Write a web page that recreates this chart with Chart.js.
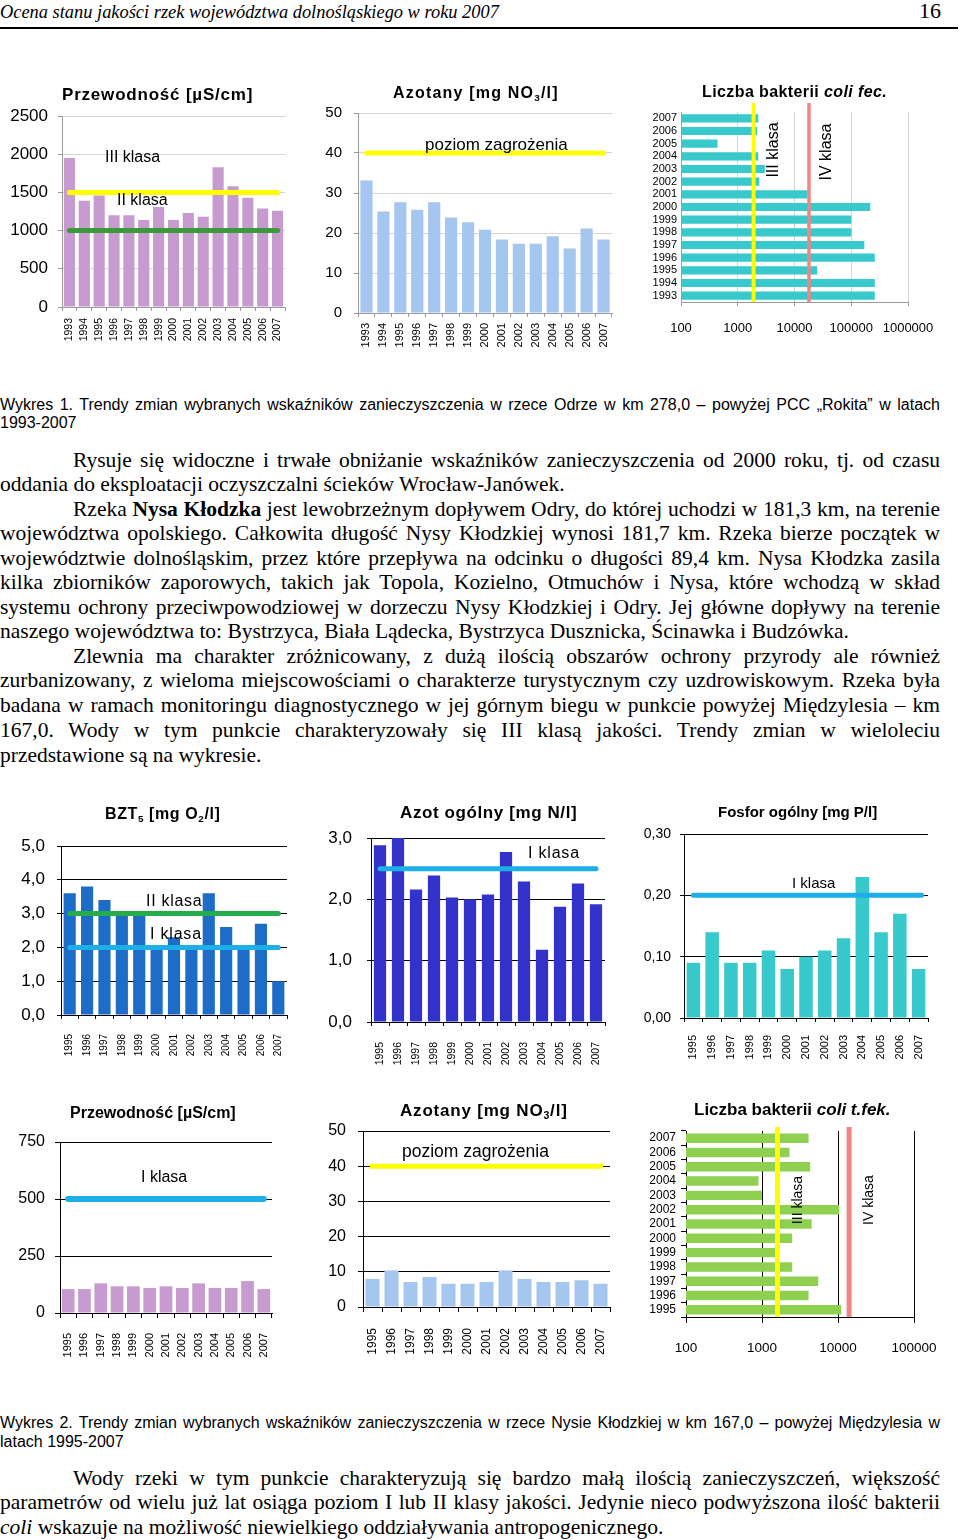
<!DOCTYPE html>
<html lang="pl"><head><meta charset="utf-8"><title>Ocena stanu jakości rzek</title>
<script src="https://cdn.jsdelivr.net/npm/chart.js@4/dist/chart.umd.min.js"></script>
<style>
html,body{margin:0;padding:0;background:#fff;}
body{position:relative;width:960px;height:1540px;overflow:hidden;font-family:"Liberation Sans",Arial,sans-serif;color:#000;}
.a{position:absolute;white-space:nowrap;}
.cb{position:absolute;}
.ttl{position:absolute;white-space:nowrap;font-weight:bold;line-height:20px;height:20px;}
.ttl sub{font-size:0.62em;vertical-align:-0.3em;line-height:0;}
.lbl{position:absolute;white-space:nowrap;line-height:20px;}
.rot{position:absolute;white-space:nowrap;transform:translate(-50%,-50%) rotate(-90deg);line-height:18px;}
.s{position:absolute;font-family:"Liberation Serif","Times New Roman",serif;font-size:21.5px;line-height:24px;height:24px;white-space:nowrap;}
.j{white-space:normal;text-align:justify;text-align-last:justify;}
.cap{position:absolute;font-size:16px;line-height:18px;height:18px;white-space:nowrap;}
</style></head><body>

<div class="a" style="left:0;top:0;font-family:'Liberation Serif',serif;font-style:italic;font-size:18.4px;line-height:24px">Ocena stanu jakości rzek województwa dolnośląskiego w roku 2007</div>
<div class="a" style="left:919px;top:-1px;font-family:'Liberation Serif',serif;font-size:22px;line-height:24px">16</div>
<div style="position:absolute;left:0;top:27px;width:958px;height:2px;background:#000"></div>

<!-- Wykres 1 -->
<div class="cb" style="left:0;top:100px;width:300px;height:250px"><canvas id="c1"></canvas></div>
<div class="cb" style="left:310px;top:100px;width:320px;height:255px"><canvas id="c2"></canvas></div>
<div class="cb" style="left:640px;top:100px;width:310px;height:245px"><canvas id="c3"></canvas></div>

<div class="ttl" style="left:62px;top:85px;font-size:17px;letter-spacing:0.8px">Przewodność [µS/cm]</div>
<div class="ttl" style="left:393px;top:83px;font-size:16px;letter-spacing:1.2px">Azotany [mg NO<sub>3</sub>/l]</div>
<div class="ttl" style="left:702px;top:82px;font-size:16px;letter-spacing:0.4px">Liczba bakterii <i>coli fec.</i></div>

<div class="lbl" style="left:105px;top:147px;font-size:16px">III klasa</div>
<div class="lbl" style="left:117px;top:190px;font-size:16px">II klasa</div>
<div class="lbl" style="left:425px;top:135px;font-size:17px">poziom zagrożenia</div>
<div class="rot" style="left:773px;top:150px;font-size:16px">III klasa</div>
<div class="rot" style="left:826px;top:152px;font-size:16px">IV klasa</div>

<div class="cap j" style="left:0;top:396px;width:940px">Wykres 1. Trendy zmian wybranych wskaźników zanieczyszczenia w rzece Odrze w km 278,0 – powyżej PCC „Rokita” w latach</div>
<div class="cap" style="left:0;top:414px">1993-2007</div>

<div class="s j" style="left:73px;top:448px;width:867px">Rysuje się widoczne i trwałe obniżanie wskaźników zanieczyszczenia od 2000 roku, tj. od czasu</div>
<div class="s" style="left:0;top:472px">oddania do eksploatacji oczyszczalni ścieków Wrocław-Janówek.</div>
<div class="s j" style="left:73px;top:497px;width:867px">Rzeka <b>Nysa Kłodzka</b> jest lewobrzeżnym dopływem Odry, do której uchodzi w 181,3 km, na terenie</div>
<div class="s j" style="left:0;top:521px;width:940px">województwa opolskiego. Całkowita długość Nysy Kłodzkiej wynosi 181,7 km. Rzeka bierze początek w</div>
<div class="s j" style="left:0;top:546px;width:940px">województwie dolnośląskim, przez które przepływa na odcinku o długości 89,4 km. Nysa Kłodzka zasila</div>
<div class="s j" style="left:0;top:570px;width:940px">kilka zbiorników zaporowych, takich jak Topola, Kozielno, Otmuchów i Nysa, które wchodzą w skład</div>
<div class="s j" style="left:0;top:595px;width:940px">systemu ochrony przeciwpowodziowej w dorzeczu Nysy Kłodzkiej i Odry. Jej główne dopływy na terenie</div>
<div class="s" style="left:0;top:619px">naszego województwa to: Bystrzyca, Biała Lądecka, Bystrzyca Dusznicka, Ścinawka i Budzówka.</div>
<div class="s j" style="left:73px;top:644px;width:867px">Zlewnia ma charakter zróżnicowany, z dużą ilością obszarów ochrony przyrody ale również</div>
<div class="s j" style="left:0;top:668px;width:940px">zurbanizowany, z wieloma miejscowościami o charakterze turystycznym czy uzdrowiskowym. Rzeka była</div>
<div class="s j" style="left:0;top:693px;width:940px">badana w ramach monitoringu diagnostycznego w jej górnym biegu w punkcie powyżej Międzylesia – km</div>
<div class="s j" style="left:0;top:718px;width:940px">167,0. Wody w tym punkcie charakteryzowały się III klasą jakości. Trendy zmian w wieloleciu</div>
<div class="s" style="left:0;top:743px">przedstawione są na wykresie.</div>

<!-- Wykres 2 -->
<div class="cb" style="left:0;top:820px;width:310px;height:245px"><canvas id="c4"></canvas></div>
<div class="cb" style="left:310px;top:820px;width:320px;height:250px"><canvas id="c5"></canvas></div>
<div class="cb" style="left:630px;top:820px;width:320px;height:250px"><canvas id="c6"></canvas></div>
<div class="cb" style="left:0;top:1120px;width:300px;height:250px"><canvas id="c7"></canvas></div>
<div class="cb" style="left:310px;top:1120px;width:320px;height:250px"><canvas id="c8"></canvas></div>
<div class="cb" style="left:630px;top:1120px;width:320px;height:250px"><canvas id="c9"></canvas></div>

<div class="ttl" style="left:105px;top:804px;font-size:16px;letter-spacing:0.6px">BZT<sub>5</sub> [mg O<sub>2</sub>/l]</div>
<div class="ttl" style="left:400px;top:803px;font-size:17px;letter-spacing:0.6px">Azot ogólny [mg N/l]</div>
<div class="ttl" style="left:718px;top:802px;font-size:15px">Fosfor ogólny [mg P/l]</div>
<div class="ttl" style="left:70px;top:1103px;font-size:16px">Przewodność [µS/cm]</div>
<div class="ttl" style="left:400px;top:1101px;font-size:17px;letter-spacing:0.8px">Azotany [mg NO<sub>3</sub>/l]</div>
<div class="ttl" style="left:694px;top:1100px;font-size:17px">Liczba bakterii <i>coli t.fek.</i></div>

<div class="lbl" style="left:146px;top:891px;font-size:16px;letter-spacing:0.7px">II klasa</div>
<div class="lbl" style="left:150px;top:924px;font-size:16px;letter-spacing:0.8px">I klasa</div>
<div class="lbl" style="left:528px;top:843px;font-size:16px;letter-spacing:0.8px">I klasa</div>
<div class="lbl" style="left:792px;top:873px;font-size:15px">I klasa</div>
<div class="lbl" style="left:141px;top:1167px;font-size:16px">I klasa</div>
<div class="lbl" style="left:402px;top:1141px;font-size:17.5px">poziom zagrożenia</div>
<div class="rot" style="left:797px;top:1200px;font-size:14px">III klasa</div>
<div class="rot" style="left:868px;top:1200px;font-size:14px">IV klasa</div>

<div class="cap j" style="left:0;top:1414px;width:940px">Wykres 2. Trendy zmian wybranych wskaźników zanieczyszczenia w rzece Nysie Kłodzkiej w km 167,0 – powyżej Międzylesia w</div>
<div class="cap" style="left:0;top:1433px">latach 1995-2007</div>

<div class="s j" style="left:73px;top:1466px;width:867px">Wody rzeki w tym punkcie charakteryzują się bardzo małą ilością zanieczyszczeń, większość</div>
<div class="s j" style="left:0;top:1490px;width:940px">parametrów od wielu już lat osiąga poziom I lub II klasy jakości. Jedynie nieco podwyższona ilość bakterii</div>
<div class="s" style="left:0;top:1515px"><i>coli</i> wskazuje na możliwość niewielkiego oddziaływania antropogenicznego.</div>

<script>
// ---------- DATA ----------
const lata9307 = ['1993','1994','1995','1996','1997','1998','1999','2000','2001','2002','2003','2004','2005','2006','2007'];
const lata9507 = ['1995','1996','1997','1998','1999','2000','2001','2002','2003','2004','2005','2006','2007'];

// Odra, km 278,0
const odraPrzewodnosc = [1950,1390,1460,1200,1200,1140,1310,1140,1230,1180,1830,1580,1430,1290,1260];
const odraPrzewodnoscGranice = [1500,1000];           // III klasa, II klasa
const odraPrzewodnoscTicks = [0,500,1000,1500,2000,2500];
const odraPrzewodnoscTickLabels = ['0','500','1000','1500','2000','2500'];

const odraAzotany = [33.1,25.4,27.7,25.8,27.7,23.9,22.7,20.8,18.4,17.3,17.3,19.2,16.1,21.1,18.4];
const odraAzotanyGranice = [40];                       // poziom zagrożenia
const odraAzotanyTicks = [0,10,20,30,40,50];
const odraAzotanyTickLabels = ['0','10','20','30','40','50'];

const odraColi = [260000,260000,25000,260000,170000,100000,100000,216000,17000,2400,3000,2300,440,2200,2300];
const odraColiGranice = [1900,18000];                  // III klasa, IV klasa
const odraColiTicks = [100,1000,10000,100000,1000000];
const odraColiTickLabels = ['100','1000','10000','100000','1000000'];

// Nysa Kłodzka, km 167,0
const nysaBZT5 = [3.6,3.8,3.4,3.0,3.0,2.0,2.3,2.0,3.6,2.6,2.0,2.7,1.0];
const nysaBZT5Granice = [3.0,2.0];                     // II klasa, I klasa
const nysaBZT5Ticks = [0,1,2,3,4,5];
const nysaBZT5TickLabels = ['0,0','1,0','2,0','3,0','4,0','5,0'];

const nysaAzotOg = [2.88,3.0,2.16,2.39,2.03,2.0,2.08,2.77,2.29,1.18,1.88,2.26,1.92];
const nysaAzotOgGranice = [2.5];
const nysaAzotOgTicks = [0,1,2,3];
const nysaAzotOgTickLabels = ['0,0','1,0','2,0','3,0'];

const nysaFosfor = [0.09,0.14,0.09,0.09,0.11,0.08,0.10,0.11,0.13,0.23,0.14,0.17,0.08];
const nysaFosforGranice = [0.20];
const nysaFosforTicks = [0,0.1,0.2,0.3];
const nysaFosforTickLabels = ['0,00','0,10','0,20','0,30'];

const nysaPrzewodnosc = [105,105,130,117,117,110,117,110,130,110,110,140,105];
const nysaPrzewodnoscGranice = [500];
const nysaPrzewodnoscTicks = [0,250,500,750];
const nysaPrzewodnoscTickLabels = ['0','250','500','750'];

const nysaAzotany = [8.0,10.4,7.1,8.5,6.6,6.6,7.1,10.4,8.0,7.1,7.1,7.6,6.6];
const nysaAzotanyGranice = [40];
const nysaAzotanyTicks = [0,10,20,30,40,50];
const nysaAzotanyTickLabels = ['0','10','20','30','40','50'];

const nysaColi = [11000,4100,5500,2500,1500,2500,4500,10400,1000,900,4300,2300,4100];
const nysaColiGranice = [1600,14000];
const nysaColiTicks = [100,1000,10000,100000];
const nysaColiTickLabels = ['100','1000','10000','100000'];

// ---------- CHART SETUP ----------
Chart.defaults.font.family = '"Liberation Sans", Arial, sans-serif';
Chart.defaults.color = '#000';
Chart.defaults.animation = false;

const thrPlugin = {
  id: 'thr',
  afterDatasetsDraw(chart, args, opts) {
    const ctx = chart.ctx, a = chart.chartArea;
    (opts.lines || []).forEach(l => {
      ctx.save();
      ctx.strokeStyle = l.color; ctx.lineWidth = l.width; ctx.lineCap = l.cap || 'round';
      ctx.beginPath();
      if (opts.vertical) {
        const x = chart.scales.x.getPixelForValue(l.value);
        ctx.moveTo(x, a.top - (opts.ext || 0)); ctx.lineTo(x, a.bottom);
      } else {
        const y = chart.scales.y.getPixelForValue(l.value);
        const n = chart.data.labels.length;
        ctx.moveTo(chart.scales.x.getPixelForValue(0) + (opts.dx0 || 0), y);
        ctx.lineTo(chart.scales.x.getPixelForValue(n - 1) + (opts.dx1 || 0), y);
      }
      ctx.stroke(); ctx.restore();
    });
  }
};
Chart.register(thrPlugin);

function noPad(s) { s.paddingTop = 0; s.paddingBottom = 0; s.paddingLeft = 0; s.paddingRight = 0; }

function vbar(id, o) {
  return new Chart(document.getElementById(id), {
    type: 'bar',
    data: { labels: o.labels, datasets: [{ data: o.values, backgroundColor: o.color, barPercentage: o.bp, categoryPercentage: 1 }] },
    options: {
      responsive: true, maintainAspectRatio: false, animation: false,
      layout: { padding: { top: o.pt, right: o.pr, left: 0, bottom: 0 } },
      plugins: { legend: { display: false }, tooltip: { enabled: false },
        thr: { lines: o.lines, dx0: o.dx0 || 0, dx1: o.dx1 || 0 } },
      scales: {
        x: {
          grid: { drawOnChartArea: false, color: o.axis, tickLength: o.xtl, offset: true },
          border: { color: o.axis },
          ticks: { minRotation: 90, maxRotation: 90, autoSkip: false, padding: o.xp, font: { size: o.xfs } },
          afterFit: s => { s.height = o.xh; noPad(s); }
        },
        y: {
          min: o.ticks[0], max: o.ticks[o.ticks.length - 1],
          grid: { color: o.grid, tickColor: o.axis, tickLength: o.ytl },
          border: { color: o.axis },
          ticks: { padding: o.yp, font: { size: o.yfs }, callback: (v, i) => o.tickLabels[i] },
          afterBuildTicks: s => { s.ticks = o.ticks.map(v => ({ value: v })); },
          afterFit: s => { s.width = o.yw; noPad(s); }
        }
      }
    }
  });
}

function hbar(id, o) {
  return new Chart(document.getElementById(id), {
    type: 'bar',
    data: { labels: o.labels, datasets: [{ data: o.values, backgroundColor: o.color, barPercentage: o.bp, categoryPercentage: 1 }] },
    options: {
      indexAxis: 'y',
      responsive: true, maintainAspectRatio: false, animation: false,
      layout: { padding: { top: o.pt, right: o.pr, left: 0, bottom: 0 } },
      plugins: { legend: { display: false }, tooltip: { enabled: false },
        thr: { lines: o.lines, vertical: true, ext: o.ext } },
      scales: {
        x: {
          type: 'logarithmic', min: o.ticks[0], max: o.ticks[o.ticks.length - 1],
          grid: { color: o.grid, tickColor: o.axis, tickLength: o.xtl },
          border: { color: o.axis },
          ticks: { padding: o.xp, font: { size: o.xfs }, maxRotation: 0, autoSkip: false, callback: (v, i) => o.tickLabels[i] },
          afterBuildTicks: s => { s.ticks = o.ticks.map(v => ({ value: v })); },
          afterFit: s => { s.height = o.xh; noPad(s); }
        },
        y: {
          reverse: true, offset: true,
          grid: { drawOnChartArea: false, drawTicks: o.ytl > 0, tickLength: o.ytl, color: o.axis, offset: true },
          border: { color: o.axis },
          ticks: { padding: o.yp, font: { size: o.yfs }, autoSkip: false },
          afterFit: s => { s.width = o.yw; noPad(s); }
        }
      }
    }
  });
}

const YEL = '#FFFF00', RED = '#F08585', LBLUE = '#1EAEE8';
const LGRID = '#D4D4D4', LAXIS = '#9A9A9A', BLK = '#000000';

vbar('c1', { labels: lata9307, values: odraPrzewodnosc, color: '#C89BD0', bp: 0.75,
  ticks: odraPrzewodnoscTicks, tickLabels: odraPrzewodnoscTickLabels,
  lines: [{ value: odraPrzewodnoscGranice[0], color: YEL, width: 5 }, { value: odraPrzewodnoscGranice[1], color: '#3A993A', width: 5 }],
  pt: 16, pr: 15, yw: 62, xh: 43, grid: LGRID, axis: LAXIS, xtl: 4, ytl: 4, xp: 7, yp: 10, xfs: 10.5, yfs: 17 });

vbar('c2', { labels: lata9307, values: odraAzotany, color: '#A5C6EE', bp: 0.72,
  ticks: odraAzotanyTicks, tickLabels: odraAzotanyTickLabels,
  lines: [{ value: odraAzotanyGranice[0], color: YEL, width: 5 }],
  pt: 13, pr: 18, yw: 48, xh: 42, grid: LGRID, axis: LAXIS, xtl: 4, ytl: 4, xp: 6, yp: 12, xfs: 11, yfs: 15 });

hbar('c3', { labels: lata9307, values: odraColi, color: '#38C9CC', bp: 0.65,
  ticks: odraColiTicks, tickLabels: odraColiTickLabels,
  lines: [{ value: odraColiGranice[0], color: YEL, width: 4, cap: 'butt' }, { value: odraColiGranice[1], color: RED, width: 3.5, cap: 'butt' }],
  ext: 9, pt: 12, pr: 42, yw: 41, xh: 43, grid: LGRID, axis: LAXIS, xtl: 4, ytl: 0, xp: 15, yp: 4, xfs: 13, yfs: 11 });

vbar('c4', { labels: lata9507, values: nysaBZT5, color: '#1C6CC8', bp: 0.7,
  ticks: nysaBZT5Ticks, tickLabels: nysaBZT5TickLabels,
  lines: [{ value: nysaBZT5Granice[0], color: '#25AD4B', width: 5 }, { value: nysaBZT5Granice[1], color: LBLUE, width: 5 }],
  pt: 26, pr: 23, yw: 61, xh: 50, grid: BLK, axis: BLK, xtl: 4, ytl: 4, xp: 15, yp: 12, xfs: 10, yfs: 17 });

vbar('c5', { labels: lata9507, values: nysaAzotOg, color: '#3333CC', bp: 0.68,
  ticks: nysaAzotOgTicks, tickLabels: nysaAzotOgTickLabels,
  lines: [{ value: nysaAzotOgGranice[0], color: LBLUE, width: 5 }],
  pt: 18, pr: 25, yw: 61, xh: 48, grid: BLK, axis: BLK, xtl: 4, ytl: 4, xp: 16, yp: 15, xfs: 10.5, yfs: 17 });

vbar('c6', { labels: lata9507, values: nysaFosfor, color: '#38C9CC', bp: 0.72,
  ticks: nysaFosforTicks, tickLabels: nysaFosforTickLabels,
  lines: [{ value: nysaFosforGranice[0], color: LBLUE, width: 5 }],
  dx1: 3,
  pt: 14, pr: 22, yw: 54, xh: 52, grid: BLK, axis: BLK, xtl: 4, ytl: 4, xp: 13, yp: 9, xfs: 11, yfs: 14 });

vbar('c7', { labels: lata9507, values: nysaPrzewodnosc, color: '#C89BD0', bp: 0.78,
  ticks: nysaPrzewodnoscTicks, tickLabels: nysaPrzewodnoscTickLabels,
  lines: [{ value: nysaPrzewodnoscGranice[0], color: LBLUE, width: 6 }],
  pt: 22, pr: 28, yw: 60, xh: 57, grid: BLK, axis: BLK, xtl: 5, ytl: 5, xp: 15, yp: 10, xfs: 11, yfs: 16 });

vbar('c8', { labels: lata9507, values: nysaAzotany, color: '#A5C6EE', bp: 0.74,
  ticks: nysaAzotanyTicks, tickLabels: nysaAzotanyTickLabels,
  lines: [{ value: nysaAzotanyGranice[0], color: YEL, width: 5, cap: 'square' }],
  pt: 11, pr: 20, yw: 53, xh: 63, grid: BLK, axis: BLK, xtl: 5, ytl: 5, xp: 16, yp: 12, xfs: 12, yfs: 16 });

hbar('c9', { labels: lata9507, values: nysaColi, color: '#8FD050', bp: 0.66,
  ticks: nysaColiTicks, tickLabels: nysaColiTickLabels,
  lines: [{ value: nysaColiGranice[0], color: YEL, width: 5, cap: 'butt' }, { value: nysaColiGranice[1], color: RED, width: 5, cap: 'butt' }],
  ext: 4, pt: 11, pr: 36, yw: 56, xh: 53, grid: BLK, axis: BLK, xtl: 6, ytl: 5, xp: 17, yp: 5, xfs: 13.5, yfs: 12 });

// keep justified lines on a single line
document.querySelectorAll('.j').forEach(el => {
  const lh = parseFloat(getComputedStyle(el).lineHeight);
  let fs = parseFloat(getComputedStyle(el).fontSize), g = 0;
  el.style.height = 'auto';
  while (el.scrollHeight > lh * 1.5 && g++ < 40) { fs -= 0.25; el.style.fontSize = fs + 'px'; }
  el.style.height = lh + 'px';
});
</script>
</body></html>
